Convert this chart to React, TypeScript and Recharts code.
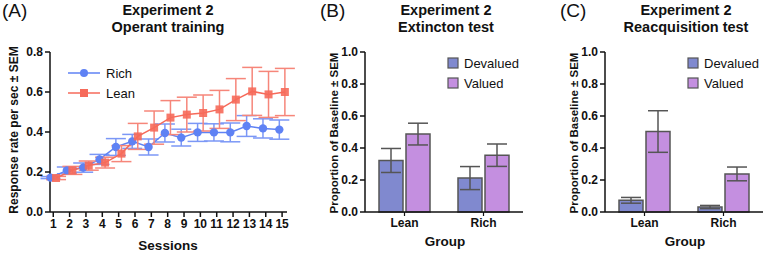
import React from 'react';
import {
  LineChart, Line, BarChart, Bar, XAxis, YAxis, ErrorBar,
} from 'recharts';

// Panel A: operant training, response rate per session
const sessions = [1, 2, 3, 4, 5, 6, 7, 8, 9, 10, 11, 12, 13, 14, 15];
const richMean = [0.172, 0.208, 0.222, 0.263, 0.325, 0.353, 0.325, 0.395, 0.372, 0.398, 0.398, 0.398, 0.43, 0.418, 0.412];
const richSem = [0.005, 0.017, 0.023, 0.025, 0.042, 0.035, 0.04, 0.045, 0.042, 0.045, 0.043, 0.047, 0.052, 0.048, 0.048];
const leanMean = [0.17, 0.208, 0.232, 0.247, 0.292, 0.378, 0.422, 0.472, 0.487, 0.495, 0.513, 0.562, 0.603, 0.588, 0.6];
const leanSem = [0.008, 0.02, 0.023, 0.027, 0.04, 0.065, 0.083, 0.085, 0.087, 0.09, 0.095, 0.105, 0.12, 0.115, 0.118];

// Panels B and C: proportion of baseline by group
const groups = ['Lean', 'Rich'];
const extDevalued = [0.322, 0.212];
const extDevaluedSem = [0.075, 0.072];
const extValued = [0.487, 0.355];
const extValuedSem = [0.068, 0.07];
const reacqDevalued = [0.073, 0.031];
const reacqDevaluedSem = [0.018, 0.01];
const reacqValued = [0.503, 0.238];
const reacqValuedSem = [0.13, 0.043];

const yTicksA = [0, 0.2, 0.4, 0.6, 0.8];
const yTicksB = [0, 0.2, 0.4, 0.6, 0.8, 1.0];

const FONT = '"Liberation Sans", Arial, Helvetica, sans-serif';
const BLUE = '#5f82f4';
const BLUE_ERR = '#7b97f6';
const RED = '#f66a5a';
const RED_ERR = '#f6867a';
const DEVALUED = '#8089cf';
const VALUED = '#c48fe0';
const EDGE = '#555';

// small horizontal dodge so the two groups' error bars don't overlap
const DODGE = 0.17;

const richData = sessions.map((s, i) => ({ x: s - DODGE, y: richMean[i], err: richSem[i] }));
const leanData = sessions.map((s, i) => ({ x: s + DODGE, y: leanMean[i], err: leanSem[i] }));

const extData = groups.map((g, i) => ({
  group: g,
  devalued: extDevalued[i], devaluedErr: extDevaluedSem[i],
  valued: extValued[i], valuedErr: extValuedSem[i],
}));
const reacqData = groups.map((g, i) => ({
  group: g,
  devalued: reacqDevalued[i], devaluedErr: reacqDevaluedSem[i],
  valued: reacqValued[i], valuedErr: reacqValuedSem[i],
}));

const tickStyle = { fill: '#111', fontSize: 12, fontWeight: 700, fontFamily: FONT };
const axisLine = { stroke: '#111', strokeWidth: 1.5 };

const abs = (left: number, top: number): React.CSSProperties => ({ position: 'absolute', left, top });

const Title = ({ cx, lines }: { cx: number; lines: string[] }) => (
  <div style={{
    position: 'absolute', left: cx - 100, top: 2, width: 200, textAlign: 'center',
    fontFamily: FONT, fontWeight: 700, fontSize: 14.5, lineHeight: '17px', color: '#111',
  }}>
    {lines.map((l) => <div key={l}>{l}</div>)}
  </div>
);

const PanelTag = ({ left, text }: { left: number; text: string }) => (
  <div style={{ ...abs(left, 0), fontFamily: FONT, fontSize: 19, color: '#111' }}>{text}</div>
);

const YLabel = ({ cx, cy, text, size }: { cx: number; cy: number; text: string; size: number }) => (
  <div style={{
    position: 'absolute', left: cx - 120, top: cy - 8, width: 240, textAlign: 'center',
    transform: 'rotate(-90deg)', fontFamily: FONT, fontWeight: 700, fontSize: size, color: '#111',
    lineHeight: '16px', whiteSpace: 'nowrap',
  }}>{text}</div>
);

const XLabel = ({ cx, top, text }: { cx: number; top: number; text: string }) => (
  <div style={{
    position: 'absolute', left: cx - 60, top, width: 120, textAlign: 'center',
    fontFamily: FONT, fontWeight: 700, fontSize: 13.5, color: '#111',
  }}>{text}</div>
);

const SquareDot = (props: any) => {
  const { cx, cy, index } = props;
  if (cx == null || cy == null) return null;
  return <rect key={`sq-${index}`} x={cx - 4} y={cy - 4} width={8} height={8} fill={RED} fillOpacity={0.9} />;
};

const LineLegend = () => (
  <svg style={abs(66, 64)} width={80} height={40}>
    <line x1={2} y1={9} x2={34} y2={9} stroke={BLUE} strokeWidth={1.5} />
    <circle cx={18} cy={9} r={4} fill={BLUE} />
    <text x={40} y={14} fontFamily={FONT} fontSize={13} fill="#111">Rich</text>
    <line x1={2} y1={29} x2={34} y2={29} stroke={RED} strokeWidth={1.5} />
    <rect x={14} y={25} width={8} height={8} fill={RED} />
    <text x={40} y={34} fontFamily={FONT} fontSize={13} fill="#111">Lean</text>
  </svg>
);

const BarLegend = ({ left }: { left: number }) => (
  <svg style={abs(left, 56)} width={90} height={40}>
    <rect x={1} y={2} width={10} height={10} fill={DEVALUED} stroke={EDGE} strokeWidth={1.2} />
    <text x={17} y={12} fontFamily={FONT} fontSize={13} fill="#111">Devalued</text>
    <rect x={1} y={22} width={10} height={10} fill={VALUED} stroke={EDGE} strokeWidth={1.2} />
    <text x={17} y={32} fontFamily={FONT} fontSize={13} fill="#111">Valued</text>
  </svg>
);

const GroupBars = ({ data, left }: { data: any[]; left: number }) => (
  <div style={abs(left, 0)}>
    <BarChart
      width={230}
      height={254}
      data={data}
      margin={{ top: 52, right: 7, left: 35, bottom: 0 }}
      barCategoryGap={14}
      barGap={3}
    >
      <XAxis
        dataKey="group"
        axisLine={axisLine}
        tickLine={{ stroke: '#111', strokeWidth: 1.2 }}
        tickSize={4}
        tick={tickStyle}
        height={42}
        interval={0}
      />
      <YAxis
        domain={[0, 1]}
        ticks={yTicksB}
        tickFormatter={(v: number) => v.toFixed(1)}
        axisLine={axisLine}
        tickLine={{ stroke: '#111', strokeWidth: 1.5 }}
        tickSize={5}
        tick={tickStyle}
        width={30}
        interval={0}
      />
      <Bar dataKey="devalued" fill={DEVALUED} stroke={EDGE} strokeWidth={1.5} barSize={24} isAnimationActive={false}>
        <ErrorBar dataKey="devaluedErr" width={10} stroke={EDGE} strokeWidth={1.5} direction="y" />
      </Bar>
      <Bar dataKey="valued" fill={VALUED} stroke={EDGE} strokeWidth={1.5} barSize={24} isAnimationActive={false}>
        <ErrorBar dataKey="valuedErr" width={10} stroke={EDGE} strokeWidth={1.5} direction="y" />
      </Bar>
    </BarChart>
  </div>
);

export default function App() {
  return (
    <div style={{ position: 'absolute', left: 0, top: 0, width: 767, height: 254, background: '#fff', overflow: 'hidden' }}>
      {/* (A) operant training */}
      <PanelTag left={2} text="(A)" />
      <Title cx={168} lines={['Experiment 2', 'Operant training']} />
      <YLabel cx={14} cy={130} text="Response rate per sec ± SEM" size={12} />
      <XLabel cx={168} top={238} text="Sessions" />
      <div style={abs(0, 0)}>
        <LineChart width={295} height={254} margin={{ top: 52, right: 8, left: 20, bottom: 0 }}>
          <XAxis
            type="number"
            dataKey="x"
            domain={[0.8, 15.3]}
            ticks={sessions}
            allowDuplicatedCategory={false}
            axisLine={axisLine}
            tickLine={{ stroke: '#111', strokeWidth: 1.5 }}
            tickSize={5}
            tick={tickStyle}
            height={42}
            interval={0}
          />
          <YAxis
            type="number"
            domain={[0, 0.8]}
            ticks={yTicksA}
            tickFormatter={(v: number) => v.toFixed(1)}
            axisLine={axisLine}
            tickLine={{ stroke: '#111', strokeWidth: 1.5 }}
            tickSize={5}
            tick={tickStyle}
            width={30}
            interval={0}
          />
          <Line
            data={richData}
            dataKey="y"
            type="linear"
            stroke={BLUE}
            strokeWidth={1.5}
            dot={{ r: 4.2, fill: BLUE, stroke: 'none' }}
            isAnimationActive={false}
          >
            <ErrorBar dataKey="err" width={10} stroke={BLUE_ERR} strokeWidth={1.5} direction="y" />
          </Line>
          <Line
            data={leanData}
            dataKey="y"
            type="linear"
            stroke={RED}
            strokeWidth={1.5}
            dot={SquareDot}
            isAnimationActive={false}
          >
            <ErrorBar dataKey="err" width={10} stroke={RED_ERR} strokeWidth={1.5} direction="y" />
          </Line>
        </LineChart>
      </div>
      <LineLegend />

      {/* (B) extinction test */}
      <PanelTag left={320} text="(B)" />
      <Title cx={446} lines={['Experiment 2', 'Extincton test']} />
      <YLabel cx={334} cy={133} text="Proportion of Baseline ± SEM" size={11.5} />
      <XLabel cx={445} top={234} text="Group" />
      <GroupBars data={extData} left={300} />
      <BarLegend left={447} />

      {/* (C) reacquisition test */}
      <PanelTag left={560} text="(C)" />
      <Title cx={686} lines={['Experiment 2', 'Reacquisition test']} />
      <YLabel cx={574} cy={133} text="Proportion of Baseline ± SEM" size={11.5} />
      <XLabel cx={685} top={234} text="Group" />
      <GroupBars data={reacqData} left={540} />
      <BarLegend left={687} />
    </div>
  );
}
